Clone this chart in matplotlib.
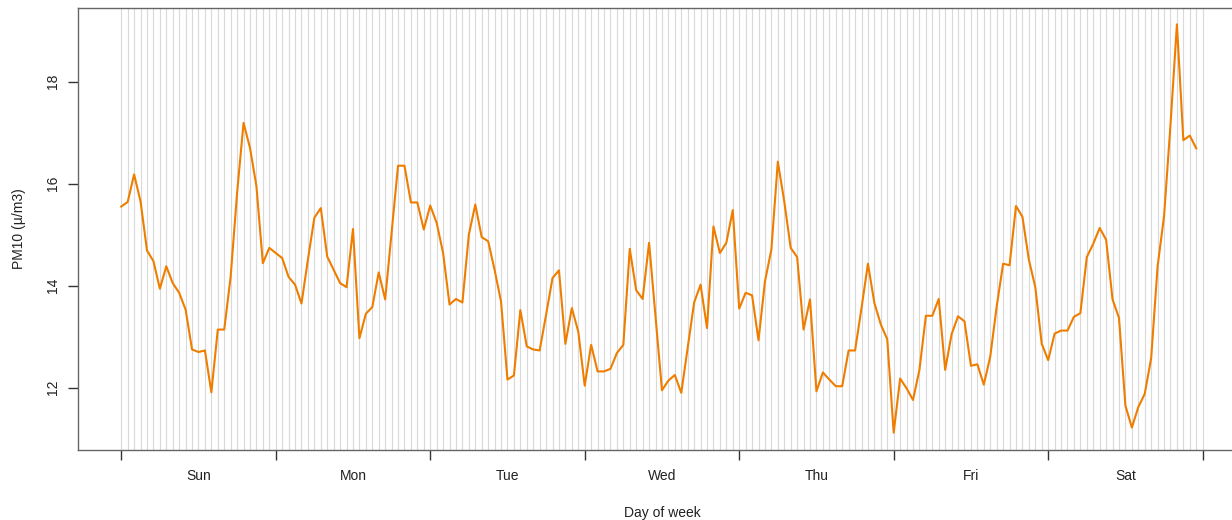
import numpy as np
import matplotlib.pyplot as plt

plt.rcParams['font.family'] = ['Liberation Sans', 'DejaVu Sans']

days = ["Sun", "Mon", "Tue", "Wed", "Thu", "Fri", "Sat"]

# hourly mean PM10, Sunday 00h .. Saturday 23h
pm10 = [
    15.55, 15.64, 16.18, 15.65, 14.69, 14.48, 13.94, 14.38, 14.05, 13.86, 13.53, 12.75,
    12.70, 12.73, 11.91, 13.14, 13.14, 14.18, 15.82, 17.19, 16.70, 15.95, 14.44, 14.74,
    14.64, 14.54, 14.17, 14.02, 13.65, 14.51, 15.33, 15.52, 14.57, 14.31, 14.05, 13.97,
    15.11, 12.97, 13.45, 13.58, 14.26, 13.73, 15.03, 16.35, 16.35, 15.63, 15.63, 15.10,
    15.57, 15.23, 14.64, 13.63, 13.74, 13.67, 15.00, 15.59, 14.95, 14.87, 14.31, 13.69,
    12.16, 12.24, 13.52, 12.81, 12.75, 12.73, 13.43, 14.15, 14.30, 12.86, 13.56, 13.10,
    12.04, 12.84, 12.32, 12.32, 12.37, 12.68, 12.84, 14.72, 13.91, 13.74, 14.84, 13.40,
    11.95, 12.14, 12.25, 11.90, 12.78, 13.67, 14.02, 13.17, 15.16, 14.64, 14.84, 15.48,
    13.55, 13.86, 13.81, 12.93, 14.08, 14.71, 16.43, 15.65, 14.74, 14.56, 13.14, 13.73,
    11.93, 12.30, 12.16, 12.03, 12.03, 12.73, 12.73, 13.56, 14.43, 13.66, 13.24, 12.95,
    11.12, 12.18, 11.99, 11.76, 12.35, 13.41, 13.41, 13.74, 12.35, 13.05, 13.40, 13.30,
    12.43, 12.46, 12.06, 12.61, 13.59, 14.43, 14.40, 15.56, 15.35, 14.51, 13.97, 12.86,
    12.54, 13.06, 13.12, 13.12, 13.39, 13.46, 14.56, 14.82, 15.13, 14.90, 13.73, 13.37,
    11.65, 11.22, 11.62, 11.88, 12.58, 14.38, 15.36, 17.15, 19.12, 16.85, 16.94, 16.69,
]

hours = np.arange(len(pm10))

fig = plt.figure(figsize=(12.32, 5.2), dpi=100)
ax = fig.add_axes([0.0633, 0.1346, 0.948, 0.85])

# hourly vertical grid
for h in range(0, 169):
    ax.axvline(h, color='#d9d9d9', lw=0.8, zorder=0)

ax.plot(hours, pm10, color='#ef7d00', lw=1.5, zorder=3)

ax.set_xlim(-6.72, 174.72)
ax.set_ylim(10.78, 19.44)

ax.set_xticks(np.arange(0, 169, 24))
ax.set_xticklabels([])
ax.set_xticks(np.arange(12, 168, 24), minor=True)
ax.set_xticklabels(days, minor=True)
ax.tick_params(axis='x', which='major', length=7, width=1, color='#333333', direction='out')
ax.tick_params(axis='x', which='minor', length=0, pad=14, labelsize=10, labelcolor='#222222')

ax.set_yticks([12, 14, 16, 18])
ax.tick_params(axis='y', length=7, width=1, color='#333333', labelsize=10,
               labelcolor='#222222', pad=6)
for lab in ax.get_yticklabels():
    lab.set_rotation(90)
    lab.set_va('center')

for side in ['left', 'bottom', 'top', 'right']:
    ax.spines[side].set_color('#666666')
    ax.spines[side].set_linewidth(1)

ax.set_xlabel('Day of week', fontsize=10, color='#222222', labelpad=16)
ax.set_ylabel('PM10 (\u00b5/m3)', fontsize=10, color='#222222', labelpad=14)

fig.savefig('out.png', dpi=100)
